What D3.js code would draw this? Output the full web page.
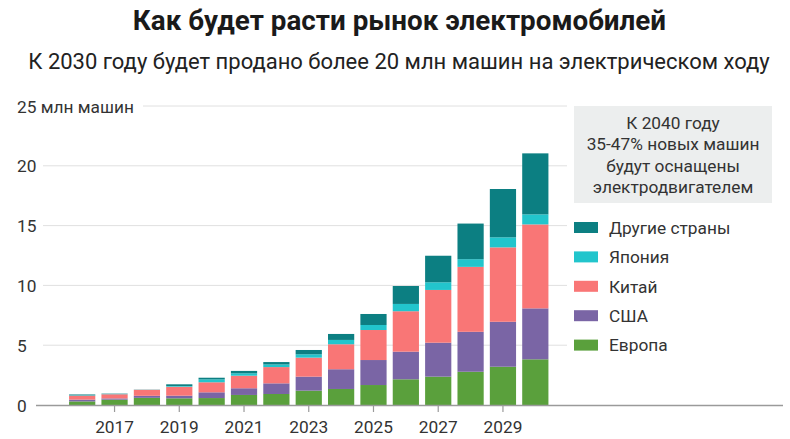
<!DOCTYPE html>
<html>
<head>
<meta charset="utf-8">
<script src="https://cdn.jsdelivr.net/npm/d3@7"></script>
<style>
  html, body { margin: 0; padding: 0; background: #fff; }
  svg { display: block; font-family: Roboto, "Noto Sans", sans-serif; }
</style>
</head>
<body>
<svg id="chart" width="790" height="439"></svg>
<script>
// ---- data ----
const years = [2016, 2017, 2018, 2019, 2020, 2021, 2022, 2023, 2024, 2025, 2026, 2027, 2028, 2029, 2030];
const europe = [0.30, 0.45, 0.60, 0.56, 0.58, 0.84, 0.92, 1.20, 1.34, 1.67, 2.15, 2.37, 2.78, 3.20, 3.82];
const usa    = [0.15, 0.10, 0.17, 0.22, 0.48, 0.56, 0.89, 1.17, 1.65, 2.09, 2.31, 2.84, 3.34, 3.76, 4.26];
const china  = [0.33, 0.35, 0.50, 0.75, 0.84, 1.05, 1.36, 1.59, 2.09, 2.51, 3.38, 4.41, 5.43, 6.22, 7.02];
const japan  = [0.03, 0.02, 0.01, 0.06, 0.24, 0.20, 0.22, 0.28, 0.36, 0.42, 0.61, 0.64, 0.64, 0.84, 0.84];
const other  = [0.07, 0.03, 0.01, 0.14, 0.14, 0.20, 0.20, 0.36, 0.50, 0.92, 1.50, 2.22, 2.98, 4.04, 5.10];
const seriesKeys  = ["europe", "usa", "china", "japan", "other"];
const seriesNames = ["Европа", "США", "Китай", "Япония", "Другие страны"];
const seriesColors = ["#5aa03c", "#7a65a5", "#f97676", "#22c5cc", "#0c7f82"];
const yTicks = [0, 5, 10, 15, 20, 25];
const xTickYears = [2017, 2019, 2021, 2023, 2025, 2027, 2029];
const titleText = "Как будет расти рынок электромобилей";
const subtitleText = "К 2030 году будет продано более 20 млн машин на электрическом ходу";
const yUnit = " млн машин";
const noteLines = ["К 2040 году", "35-47% новых машин", "будут оснащены", "электродвигателем"];

// ---- build table ----
const table = years.map((y, i) => ({
  year: y, europe: europe[i], usa: usa[i], china: china[i], japan: japan[i], other: other[i]
}));
const stacked = d3.stack().keys(seriesKeys)(table);

const svg = d3.select("#chart");

const x = d3.scaleBand().domain(years).range([66, 551.5]).paddingInner(0.19).paddingOuter(0.095);
const y = d3.scaleLinear().domain([0, 25]).range([405, 106]);

const FS = 17.3;

// titles
svg.append("text").attr("x", 399.5).attr("y", 29.5).attr("text-anchor", "middle")
  .attr("font-size", 27.8).attr("font-weight", 700).attr("fill", "#1a1a1a").text(titleText);
svg.append("text").attr("x", 399).attr("y", 68.5).attr("text-anchor", "middle")
  .attr("font-size", 22).attr("fill", "#222").text(subtitleText);

// gridlines
svg.append("g").selectAll("line").data(yTicks.filter(d => d > 0)).join("line")
  .attr("x1", d => d === 25 ? 143 : 43).attr("x2", 567)
  .attr("y1", d => y(d)).attr("y2", d => y(d))
  .attr("stroke", "#e0e0e0").attr("stroke-width", 1);

// y labels
svg.append("g").selectAll("text").data(yTicks).join("text")
  .attr("x", 17).attr("y", d => y(d) + 6.5)
  .attr("font-size", FS).attr("fill", "#333")
  .text(d => d === 25 ? d + yUnit : d);

// bars
svg.append("g").selectAll("g").data(stacked).join("g")
  .attr("fill", (d, i) => seriesColors[i])
  .selectAll("rect").data(d => d).join("rect")
  .attr("x", d => x(d.data.year)).attr("width", x.bandwidth())
  .attr("y", d => y(d[1])).attr("height", d => y(d[0]) - y(d[1]));

// x axis baseline
svg.append("line").attr("x1", 36).attr("x2", 783).attr("y1", y(0) + 0.5).attr("y2", y(0) + 0.5)
  .attr("stroke", "#9a9a9a").attr("stroke-width", 1.5);

// x ticks
const xt = svg.append("g").selectAll("g").data(xTickYears).join("g")
  .attr("transform", d => `translate(${x(d) + x.bandwidth() / 2},0)`);
xt.append("line").attr("y1", y(0)).attr("y2", y(0) + 7).attr("stroke", "#9a9a9a").attr("stroke-width", 1.2);
xt.append("text").attr("y", 433).attr("text-anchor", "middle").attr("font-size", FS)
  .attr("fill", "#333").text(d => d);

// note box
svg.append("rect").attr("x", 574).attr("y", 106).attr("width", 198).attr("height", 97).attr("fill", "#eceeee");
svg.append("g").selectAll("text").data(noteLines).join("text")
  .attr("x", 673).attr("y", (d, i) => 128.5 + i * 21.5).attr("text-anchor", "middle")
  .attr("font-size", FS).attr("fill", "#333").text(d => d);

// legend (top to bottom: reversed stack order)
const legendIdx = [4, 3, 2, 1, 0];
const lg = svg.append("g").selectAll("g").data(legendIdx).join("g")
  .attr("transform", (d, i) => `translate(574,${227.5 + i * 29.4})`);
lg.append("rect").attr("x", 0).attr("y", -5.5).attr("width", 24).attr("height", 11)
  .attr("fill", d => seriesColors[d]);
lg.append("text").attr("x", 35).attr("y", 6.3).attr("font-size", FS).attr("fill", "#333")
  .text(d => seriesNames[d]);
</script>
</body>
</html>
